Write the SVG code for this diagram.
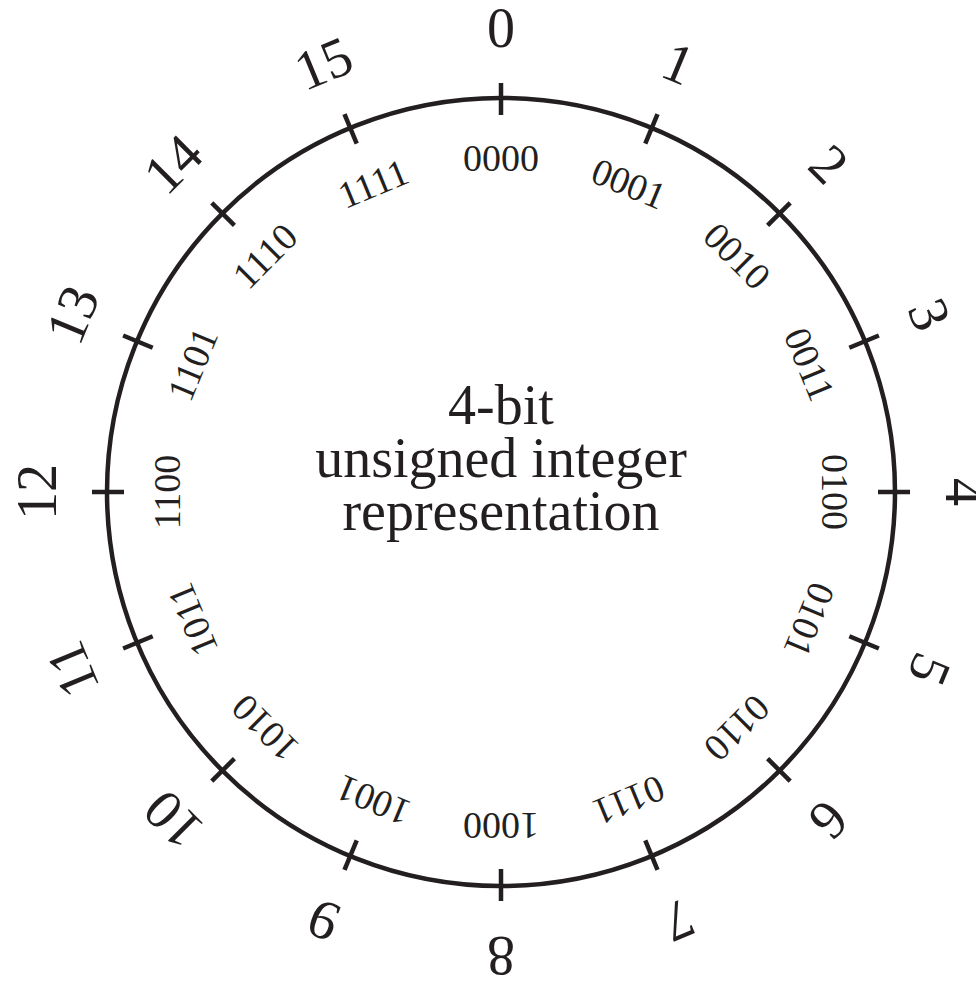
<svg xmlns="http://www.w3.org/2000/svg" width="976" height="982" viewBox="0 0 976 982">
<style>
.ring{fill:none;stroke:#231f20;stroke-width:4.5}
.tick{stroke:#231f20;stroke-width:4.5}
.num{font-family:"Liberation Serif",serif;font-size:56px;fill:#231f20;text-anchor:middle}
.bin{font-family:"Liberation Serif",serif;font-size:38px;fill:#231f20;text-anchor:middle}
.title{font-family:"Liberation Serif",serif;font-size:56px;fill:#231f20;text-anchor:middle}
</style>
<rect width="976" height="982" fill="#fff"/>
<g id="ring"><circle class="ring" cx="501" cy="492" r="394"/></g>
<g id="ticks">
<line class="tick" x1="501" y1="83" x2="501" y2="115" transform="rotate(0 501 492)"/>
<line class="tick" x1="501" y1="83" x2="501" y2="115" transform="rotate(22.5 501 492)"/>
<line class="tick" x1="501" y1="83" x2="501" y2="115" transform="rotate(45 501 492)"/>
<line class="tick" x1="501" y1="83" x2="501" y2="115" transform="rotate(67.5 501 492)"/>
<line class="tick" x1="501" y1="83" x2="501" y2="115" transform="rotate(90 501 492)"/>
<line class="tick" x1="501" y1="83" x2="501" y2="115" transform="rotate(112.5 501 492)"/>
<line class="tick" x1="501" y1="83" x2="501" y2="115" transform="rotate(135 501 492)"/>
<line class="tick" x1="501" y1="83" x2="501" y2="115" transform="rotate(157.5 501 492)"/>
<line class="tick" x1="501" y1="83" x2="501" y2="115" transform="rotate(180 501 492)"/>
<line class="tick" x1="501" y1="83" x2="501" y2="115" transform="rotate(202.5 501 492)"/>
<line class="tick" x1="501" y1="83" x2="501" y2="115" transform="rotate(225 501 492)"/>
<line class="tick" x1="501" y1="83" x2="501" y2="115" transform="rotate(247.5 501 492)"/>
<line class="tick" x1="501" y1="83" x2="501" y2="115" transform="rotate(270 501 492)"/>
<line class="tick" x1="501" y1="83" x2="501" y2="115" transform="rotate(292.5 501 492)"/>
<line class="tick" x1="501" y1="83" x2="501" y2="115" transform="rotate(315 501 492)"/>
<line class="tick" x1="501" y1="83" x2="501" y2="115" transform="rotate(337.5 501 492)"/>
</g>
<g id="p0"><text class="num" x="501" y="47" transform="rotate(0 501 492)">0</text><text class="bin" x="501" y="171" transform="rotate(0 501 492)">0000</text></g>
<g id="p1"><text class="num" x="501" y="47" transform="rotate(22.5 501 492)">1</text><text class="bin" x="501" y="171" transform="rotate(22.5 501 492)">0001</text></g>
<g id="p2"><text class="num" x="501" y="47" transform="rotate(45 501 492)">2</text><text class="bin" x="501" y="171" transform="rotate(45 501 492)">0010</text></g>
<g id="p3"><text class="num" x="501" y="47" transform="rotate(67.5 501 492)">3</text><text class="bin" x="501" y="171" transform="rotate(67.5 501 492)">0011</text></g>
<g id="p4"><text class="num" x="501" y="47" transform="rotate(90 501 492)">4</text><text class="bin" x="501" y="171" transform="rotate(90 501 492)">0100</text></g>
<g id="p5"><text class="num" x="501" y="47" transform="rotate(112.5 501 492)">5</text><text class="bin" x="501" y="171" transform="rotate(112.5 501 492)">0101</text></g>
<g id="p6"><text class="num" x="501" y="47" transform="rotate(135 501 492)">6</text><text class="bin" x="501" y="171" transform="rotate(135 501 492)">0110</text></g>
<g id="p7"><text class="num" x="501" y="47" transform="rotate(157.5 501 492)">7</text><text class="bin" x="501" y="171" transform="rotate(157.5 501 492)">0111</text></g>
<g id="p8"><text class="num" x="501" y="47" transform="rotate(180 501 492)">8</text><text class="bin" x="501" y="171" transform="rotate(180 501 492)">1000</text></g>
<g id="p9"><text class="num" x="501" y="47" transform="rotate(202.5 501 492)">9</text><text class="bin" x="501" y="171" transform="rotate(202.5 501 492)">1001</text></g>
<g id="p10"><text class="num" x="501" y="47" transform="rotate(225 501 492)">10</text><text class="bin" x="501" y="171" transform="rotate(225 501 492)">1010</text></g>
<g id="p11"><text class="num" x="501" y="47" transform="rotate(247.5 501 492)">11</text><text class="bin" x="501" y="171" transform="rotate(247.5 501 492)">1011</text></g>
<g id="p12"><text class="num" x="501" y="47" transform="rotate(270 501 492)">12</text><text class="bin" x="501" y="171" transform="rotate(270 501 492)">1100</text></g>
<g id="p13"><text class="num" x="501" y="47" transform="rotate(292.5 501 492)">13</text><text class="bin" x="501" y="171" transform="rotate(292.5 501 492)">1101</text></g>
<g id="p14"><text class="num" x="501" y="47" transform="rotate(315 501 492)">14</text><text class="bin" x="501" y="171" transform="rotate(315 501 492)">1110</text></g>
<g id="p15"><text class="num" x="501" y="47" transform="rotate(337.5 501 492)">15</text><text class="bin" x="501" y="171" transform="rotate(337.5 501 492)">1111</text></g>
<g id="title"><text class="title" x="501" y="424">4-bit</text><text class="title" x="501" y="477">unsigned integer</text><text class="title" x="501" y="530">representation</text></g>
</svg>
